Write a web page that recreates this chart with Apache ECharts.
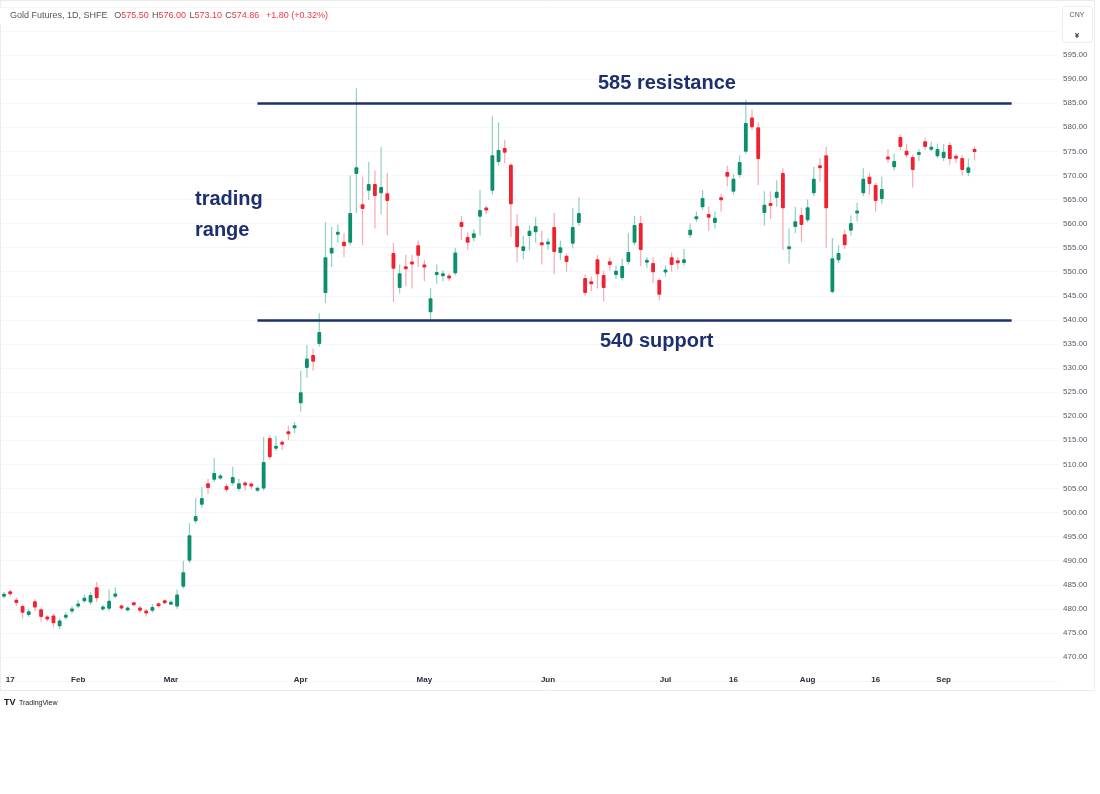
<!DOCTYPE html>
<html>
<head>
<meta charset="utf-8">
<script src="https://cdn.jsdelivr.net/npm/echarts@6/dist/echarts.min.js"></script>
<style>
html,body{margin:0;padding:0;background:#fff;}
#chart{width:1100px;height:794px;}
</style>
</head>
<body>
<div id="chart"></div>
<script>
// ---- data (Gold Futures, 1D, SHFE, 2024) ----
var startDate = '2024-01-16';
var holidays = ['2024-02-09','2024-02-12','2024-02-13','2024-02-14','2024-02-15','2024-02-16',
  '2024-04-04','2024-04-05','2024-05-01','2024-05-02','2024-05-03','2024-06-10'];
var emptySlots = 13;

var opens = [482.6,483.6,481.9,480.6,478.7,481.6,479.9,478.3,478.6,476.4,
478.2,479.5,480.6,481.6,481.3,484.5,480.0,480.0,482.5,480.6,
479.8,481.2,480.3,479.6,479.6,481.0,481.6,481.0,480.5,484.6,
490.0,498.2,501.6,506.1,506.8,507.2,505.5,506.1,504.9,506.1,
505.9,504.7,505.0,515.5,513.3,514.6,516.8,517.6,522.7,530.0,
532.7,535.0,545.6,553.8,557.8,556.2,556.0,570.3,564.0,566.8,
568.2,566.3,566.3,553.9,546.6,551.0,552.0,555.5,551.4,541.6,
549.5,549.2,549.1,549.7,560.3,557.2,557.0,561.4,563.2,566.8,
572.8,575.7,572.2,559.5,554.3,557.4,558.2,556.0,555.8,559.3,
553.9,553.3,555.8,560.1,548.7,547.9,552.6,549.3,552.2,549.3,
548.7,552.0,556.0,560.1,552.0,551.8,548.3,550.0,553.0,552.2,
551.8,557.6,561.0,563.4,562.0,560.1,565.3,570.7,566.6,570.1,
574.9,582.0,580.0,562.2,564.1,565.3,570.5,554.8,559.3,561.8,
560.7,566.3,572.0,574.2,545.8,552.4,557.8,558.5,562.2,566.3,
569.7,568.0,565.1,573.8,571.7,578.0,575.1,573.8,574.4,577.1,
575.5,574.0,573.6,576.3,573.9,573.6,570.5,575.5];

var closes = [483.0,483.1,481.2,479.2,479.5,480.3,478.3,477.9,477.0,477.6,
478.7,480.0,481.0,482.3,482.9,482.2,480.4,481.7,483.2,480.2,
480.1,480.9,479.6,479.1,480.4,480.7,481.3,481.3,483.0,487.6,
495.3,499.3,503.0,505.1,508.2,507.6,504.7,507.4,506.1,505.7,
505.5,505.0,510.5,511.5,513.8,514.2,516.3,518.0,525.0,532.0,
531.3,537.5,553.0,555.0,558.2,555.3,562.2,571.7,563.0,568.2,
565.7,567.6,564.7,550.6,549.7,550.6,551.6,553.3,551.0,544.5,
549.8,549.5,548.7,554.0,559.3,556.0,558.0,562.8,562.8,574.2,
575.3,574.7,564.0,555.1,555.3,558.5,559.5,555.6,556.1,554.1,
555.1,552.0,559.3,562.2,545.6,547.5,549.5,546.6,551.4,550.2,
551.2,554.1,559.7,554.5,552.3,549.9,545.2,550.3,551.4,551.9,
552.6,558.7,561.4,565.3,561.2,561.2,565.0,569.7,569.3,572.8,
580.9,580.0,573.4,563.9,563.8,566.6,563.2,555.2,560.5,559.7,
563.4,569.3,571.6,563.2,552.8,553.9,555.5,560.1,562.6,569.3,
568.2,564.7,567.2,573.4,573.0,575.9,574.2,571.1,574.7,575.9,
575.8,575.5,574.9,573.4,573.6,571.1,571.7,574.86];

var highs = [483.5,484.0,482.3,481.0,480.0,482.0,480.3,478.6,479.0,478.0,
479.3,480.6,481.8,483.0,483.5,485.6,480.8,484.0,484.5,481.0,
480.5,481.5,480.7,480.0,481.0,481.3,482.0,481.8,484.0,490.0,
497.8,503.0,505.3,507.0,511.3,508.0,506.0,509.5,507.0,506.5,
506.3,505.4,515.7,516.0,515.9,515.0,518.0,518.8,529.5,534.8,
534.0,541.4,560.3,559.3,559.8,558.0,570.0,588.1,569.7,572.8,
571.0,575.9,570.5,556.0,551.5,553.5,553.5,556.5,552.5,546.6,
551.5,550.3,549.6,555.0,561.6,558.2,558.8,567.0,563.7,582.3,
581.0,577.4,572.5,562.0,557.4,559.6,561.3,558.5,557.0,562.2,
556.5,553.8,563.3,565.5,549.5,549.0,553.5,550.2,553.0,551.3,
552.7,558.0,561.6,561.6,553.0,553.0,548.7,551.3,554.0,553.0,
554.7,560.0,562.5,567.0,563.5,562.5,566.2,572.0,570.3,574.2,
585.7,583.7,581.0,566.7,566.7,569.0,571.5,559.0,563.5,563.3,
565.0,571.8,573.6,575.9,557.0,555.5,558.7,561.7,564.3,571.5,
570.5,568.5,569.7,575.5,574.5,578.5,576.5,574.3,575.5,577.8,
577.0,576.6,576.5,576.9,574.5,574.2,573.5,576.0];

var lows = [482.2,482.6,480.6,478.0,478.3,479.5,477.3,477.4,476.2,475.8,
477.8,479.0,480.2,481.2,480.8,481.5,479.6,479.5,482.2,479.8,
479.5,480.5,479.2,478.4,479.2,480.3,481.0,480.8,480.0,484.2,
489.5,497.8,501.0,503.8,506.3,506.8,504.2,505.6,504.4,504.5,
504.8,504.3,504.5,511.0,512.8,513.0,515.0,516.5,521.0,528.0,
529.5,534.5,543.5,551.0,556.0,553.0,555.5,562.2,555.5,564.9,
559.0,562.0,557.6,543.7,545.5,547.0,546.5,551.0,548.0,540.0,
547.5,548.0,548.0,549.2,556.6,554.5,556.3,557.5,562.0,566.0,
572.0,572.5,557.2,552.0,552.6,554.4,556.0,551.5,554.5,549.5,
552.5,550.0,554.8,559.5,545.0,546.0,546.5,543.8,550.2,548.5,
548.2,551.5,555.5,551.2,550.8,547.6,544.0,549.0,550.0,550.5,
551.3,557.0,560.3,562.8,558.5,559.0,562.5,567.8,566.0,569.5,
574.5,579.5,568.0,559.6,561.0,563.5,554.5,551.7,558.0,556.2,
560.2,565.7,568.7,555.0,545.5,551.8,554.7,557.5,560.5,565.7,
566.0,562.5,564.0,572.5,571.0,575.2,573.7,567.5,573.0,575.3,
575.0,573.6,573.0,572.2,572.6,570.0,569.8,573.1];

// time-axis labels: [date, text]
var timeLabels = [['2024-01-17','17'],['2024-02-01','Feb'],['2024-03-01','Mar'],['2024-04-01','Apr'],
  ['2024-05-06','May'],['2024-06-03','Jun'],['2024-07-01','Jul'],['2024-07-16','16'],
  ['2024-08-01','Aug'],['2024-08-16','16'],['2024-09-02','Sep']];

// price-axis range
var priceMin = 465, priceMax = 605, priceStep = 5;
var labelMin = 470, labelMax = 595;

// annotation levels
var resistance = 585, support = 540;
var lineFromIdx = 41, lineToIdx = 163;

// header
var headerTitle = 'Gold Futures, 1D, SHFE';
var headerValues = [['O','575.50'],['H','576.00'],['L','573.10'],['C','574.86']];
var headerChange = '+1.80 (+0.32%)';

// ---- build trading dates ----
function fmt(d){var m=d.getUTCMonth()+1, dd=d.getUTCDate();return d.getUTCFullYear()+'-'+(m<10?'0':'')+m+'-'+(dd<10?'0':'')+dd;}
var dates = [];
var d = new Date(startDate+'T00:00:00Z');
while (dates.length < opens.length) {
  var wd = d.getUTCDay(), s = fmt(d);
  if (wd !== 0 && wd !== 6 && holidays.indexOf(s) < 0) dates.push(s);
  d = new Date(d.getTime() + 86400000);
}
var categories = dates.slice();
for (var k = 0; k < emptySlots; k++) categories.push('pad' + k);

var labelMap = {};
timeLabels.forEach(function(t){ labelMap[t[0]] = t[1]; });

var candleData = opens.map(function(o, i){ return [i, o, closes[i], lows[i], highs[i]]; });

var UP = '#0b8f6d', DOWN = '#f1222f', UPW = '#8fd1bd', DOWNW = '#f8a9b0';
var NAVY = '#1c2f6e';
var FONT = 'Liberation Sans';

function renderCandle(params, api){
  var i = api.value(0), o = api.value(1), c = api.value(2), l = api.value(3), h = api.value(4);
  var pO = api.coord([i, o]), pC = api.coord([i, c]), pL = api.coord([i, l]), pH = api.coord([i, h]);
  var w = api.size([1, 0])[0] * 0.62;
  var up = c >= o;
  var top = Math.min(pO[1], pC[1]);
  var bh = Math.abs(pO[1] - pC[1]);
  if (bh < 3) { top -= (3 - bh) / 2; bh = 3; }
  return {
    type: 'group',
    children: [
      {type: 'line', shape: {x1: pH[0], y1: pH[1], x2: pL[0], y2: pL[1]},
        style: {stroke: up ? UPW : DOWNW, lineWidth: 1.2}},
      {type: 'rect', shape: {x: pO[0] - w / 2, y: top, width: w, height: bh, r: 1},
        style: {fill: up ? UP : DOWN}}
    ]
  };
}

var headerRich = {
  t: {fill: '#555', fontSize: 9, fontFamily: FONT},
  k: {fill: '#555', fontSize: 9, fontFamily: FONT},
  v: {fill: '#f23645', fontSize: 9, fontFamily: FONT}
};
var headerText = '{t|' + headerTitle + '}  ' + headerValues.map(function(p){ return '{k|' + p[0] + '}{v|' + p[1] + '}'; }).join(' ') + '  {v|' + headerChange + '}';

var chart = echarts.init(document.getElementById('chart'), null, {renderer: 'canvas'});
chart.setOption({
  backgroundColor: '#ffffff',
  animation: false,
  grid: {left: 0.92, right: 42, top: 6.84, bottom: 112.9},
  xAxis: {
    type: 'category',
    data: categories,
    boundaryGap: true,
    offset: -9,
    axisLine: {show: false},
    axisTick: {show: false},
    splitLine: {show: false},
    axisLabel: {
      interval: function(idx, val){ return labelMap[val] !== undefined; },
      formatter: function(val){ return labelMap[val] || ''; },
      color: '#2a2e39', fontSize: 8, fontWeight: 'bold', fontFamily: FONT, margin: 4
    }
  },
  yAxis: {
    type: 'value',
    position: 'right',
    min: priceMin, max: priceMax, interval: priceStep,
    axisLine: {show: false},
    axisTick: {show: false},
    splitLine: {show: true, lineStyle: {color: '#f6f6f8', width: 1}},
    axisLabel: {
      formatter: function(v){ return (v < labelMin || v > labelMax) ? '' : v.toFixed(2); },
      color: '#555a66', fontSize: 8, fontFamily: FONT, margin: 5
    }
  },
  series: [{
    type: 'custom',
    renderItem: renderCandle,
    encode: {x: 0, y: [1, 2, 3, 4]},
    data: candleData,
    markLine: {
      silent: true,
      symbol: 'none',
      label: {show: false},
      lineStyle: {color: NAVY, width: 2.5, type: 'solid'},
      data: [
        [{coord: [lineFromIdx, resistance]}, {coord: [lineToIdx, resistance]}],
        [{coord: [lineFromIdx, support]}, {coord: [lineToIdx, support]}]
      ]
    }
  }],
  graphic: [
    {type: 'rect', z: -10, shape: {x: 0.5, y: 0.5, width: 1094, height: 690},
      style: {fill: 'none', stroke: '#ebebeb', lineWidth: 1}, silent: true},
    {type: 'rect', z: 100, shape: {x: 0, y: 8, width: 360, height: 16}, style: {fill: '#fff'}},
    {type: 'text', z: 101, left: 10, top: 10, style: {text: headerText, rich: headerRich}},
    {type: 'rect', z: 100, shape: {x: 1062.5, y: 6.5, width: 30, height: 36, r: 3},
      style: {fill: '#fff', stroke: '#ececec', lineWidth: 1}},
    {type: 'text', z: 101, style: {text: 'CNY', x: 1077, y: 15, fontSize: 7, fill: '#555', align: 'center', verticalAlign: 'middle', fontFamily: FONT}},
    {type: 'text', z: 101, style: {text: '¥', x: 1077, y: 36, fontSize: 8, fontWeight: 'bold', fill: '#333', align: 'center', verticalAlign: 'middle', fontFamily: FONT}},
    {type: 'text', z: 101, style: {text: '585 resistance', x: 598, y: 83, fontSize: 20, fontWeight: 'bold', fill: NAVY, verticalAlign: 'middle', fontFamily: FONT}},
    {type: 'text', z: 101, style: {text: '540 support', x: 600, y: 341, fontSize: 20, fontWeight: 'bold', fill: NAVY, verticalAlign: 'middle', fontFamily: FONT}},
    {type: 'text', z: 101, style: {text: 'trading\nrange', x: 195, y: 184, fontSize: 20, lineHeight: 31, fontWeight: 'bold', fill: NAVY, fontFamily: FONT}},
    {type: 'text', z: 101, style: {text: 'TV', x: 4, y: 703, fontSize: 9, fontWeight: 'bold', fill: '#131722', verticalAlign: 'middle', fontFamily: FONT}},
    {type: 'text', z: 101, style: {text: 'TradingView', x: 19, y: 703, fontSize: 7, fill: '#131722', verticalAlign: 'middle', fontFamily: FONT}}
  ]
});
</script>
</body>
</html>
